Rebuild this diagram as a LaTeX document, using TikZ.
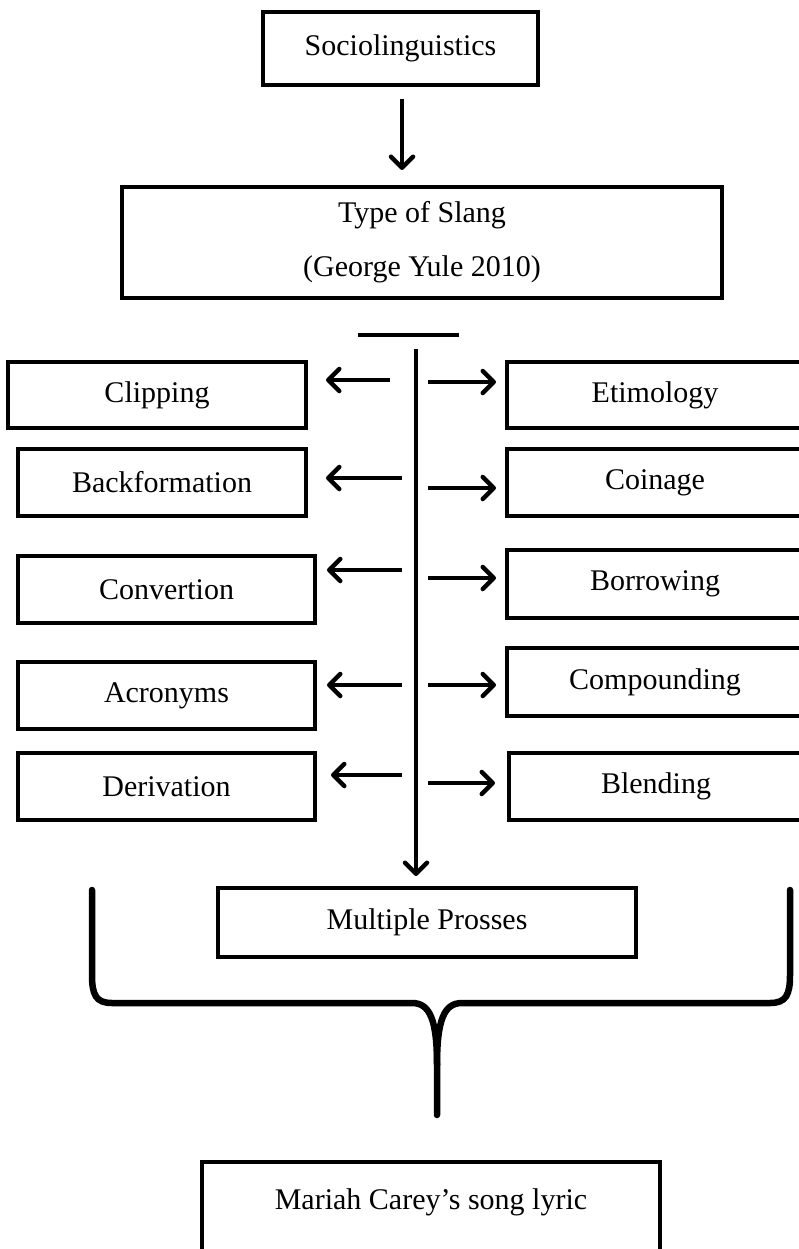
\documentclass[tikz,border=0pt]{standalone}
\usepackage{fontspec}
\setmainfont{Liberation Serif}
\usetikzlibrary{arrows.meta}
\begin{document}
\begin{tikzpicture}[x=1pt,y=-1pt,
  box/.style={draw,line width=4pt,rectangle,inner sep=0pt,align=center,
    font=\fontsize{30}{54}\selectfont},
  arr/.style={line width=3.5pt,-{Straight Barb[length=11pt,width=22pt,line width=4.5pt 0 1,round]}},
  bar/.style={line width=3.5pt},
  brace/.style={line width=6.5pt,line cap=round}]
\useasboundingbox (0,0) rectangle (798,1249);
% nodes
\node[box,minimum width=275pt,minimum height=73pt] (socio) at (400.5,48.5) {Sociolinguistics};
\node[box,minimum width=600pt,minimum height=111pt] (type) at (422,242.5) {Type of Slang\\(George Yule 2010)};
\node[box,minimum width=298pt,minimum height=66pt] (clip) at (157,395) {Clipping};
\node[box,minimum width=288pt,minimum height=67pt] (backf) at (162,482.5) {Backformation};
\node[box,minimum width=297pt,minimum height=67pt] (conv) at (166.5,589.5) {Convertion};
\node[box,minimum width=297pt,minimum height=67pt] (acr) at (166.5,695.5) {Acronyms};
\node[box,minimum width=297pt,minimum height=67pt] (deriv) at (166.5,786.5) {Derivation};
\node[box,minimum width=296pt,minimum height=66pt] (etim) at (655,395) {Etimology};
\node[box,minimum width=296pt,minimum height=67pt] (coin) at (655,482.5) {Coinage};
\node[box,minimum width=296pt,minimum height=68pt] (borr) at (655,584) {Borrowing};
\node[box,minimum width=296pt,minimum height=68pt] (comp) at (655,682) {Compounding};
\node[box,minimum width=294pt,minimum height=67pt] (blend) at (656,786.5) {Blending};
\node[box,minimum width=418pt,minimum height=69pt] (multi) at (427,922.5) {Multiple Prosses};
\node[box,minimum width=458pt,minimum height=128pt] (mariah) at (431,1226) {Mariah Carey’s song lyric\\\mbox{}};
% top arrow
\coordinate (topS) at ([xshift=1.5pt,yshift=-12pt]socio.south);
\draw[arr] (topS) -- ([yshift=15pt]topS |- type.north);
% bar and trunk
\coordinate (barL) at (358,335);
\coordinate (barR) at (459,335);
\draw[bar] (barL) -- (barR);
\coordinate (trunkTop) at (416,349);
\coordinate (trunkEnd) at (416,876);
\draw[arr] (trunkTop) -- (trunkEnd);
% left arrows
\coordinate (l1) at (390,380);
\coordinate (l2) at (402,478);
\coordinate (l3) at (402,570);
\coordinate (l4) at (402,685);
\coordinate (l5) at (402,775);
\draw[arr] (l1) -- ([xshift=18pt]l1 -| clip.east);
\draw[arr] (l2) -- ([xshift=18pt]l2 -| backf.east);
\draw[arr] (l3) -- ([xshift=10pt]l3 -| conv.east);
\draw[arr] (l4) -- ([xshift=10pt]l4 -| acr.east);
\draw[arr] (l5) -- ([xshift=14pt]l5 -| deriv.east);
% right arrows
\coordinate (r1) at (428,382);
\coordinate (r2) at (428,488);
\coordinate (r3) at (428,578);
\coordinate (r4) at (428,685);
\coordinate (r5) at (428,783);
\draw[arr] (r1) -- ([xshift=-9pt]r1 -| etim.west);
\draw[arr] (r2) -- ([xshift=-9pt]r2 -| coin.west);
\draw[arr] (r3) -- ([xshift=-9pt]r3 -| borr.west);
\draw[arr] (r4) -- ([xshift=-9pt]r4 -| comp.west);
\draw[arr] (r5) -- ([xshift=-12pt]r5 -| blend.west);
% brace
\coordinate (bl) at (92,890);
\coordinate (br) at (790,890);
\coordinate (tip) at (437,1115);
\draw[brace] (bl) -- (92,975) .. controls (92,995) and (96,1003) .. (112,1003)
  -- (412,1003) .. controls (430,1003) and (437,1020) .. (437,1065) -- (tip);
\draw[brace] (br) -- (790,975) .. controls (790,995) and (786,1003) .. (770,1003)
  -- (462,1003) .. controls (444,1003) and (437,1020) .. (437,1065);
\end{tikzpicture}
\end{document}
